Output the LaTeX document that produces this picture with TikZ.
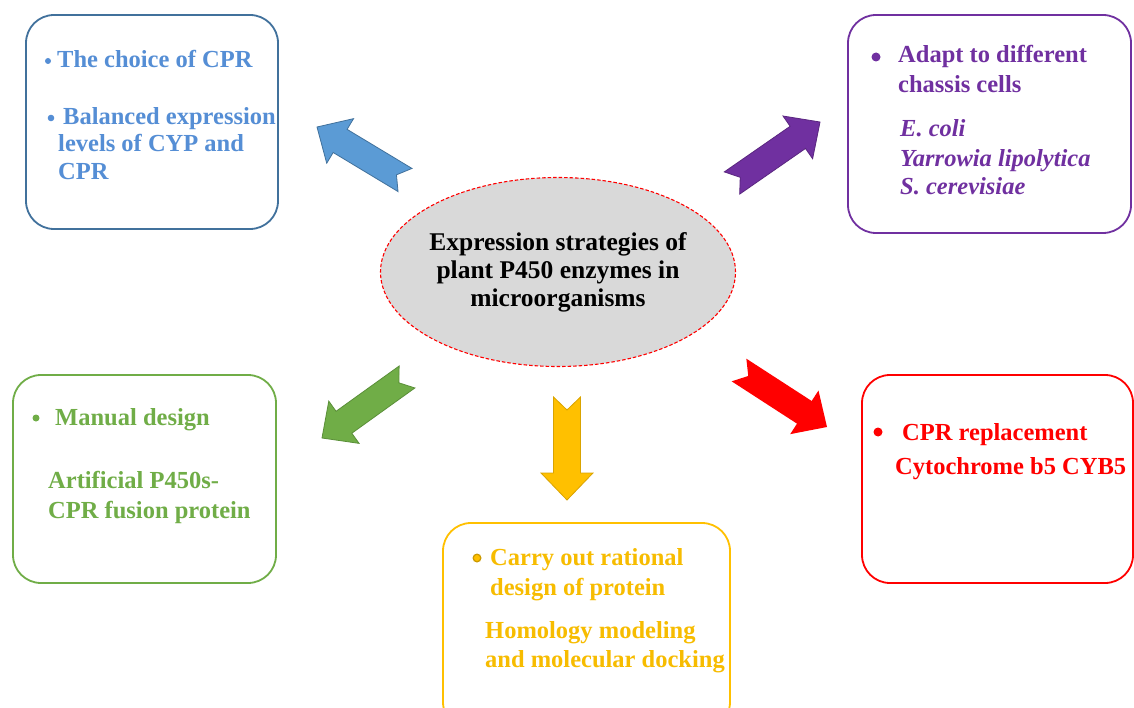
\documentclass[tikz,border=0pt]{standalone}
\usepackage{fontspec}
\setmainfont{Liberation Serif}
\usetikzlibrary{calc,shapes.geometric}
\definecolor{cblue}{HTML}{558ED5}
\definecolor{cblueb}{HTML}{41719C}
\definecolor{cbluea}{HTML}{5B9BD5}
\definecolor{cpurple}{HTML}{7030A0}
\definecolor{cgreen}{HTML}{70AD47}
\definecolor{cgreenb}{HTML}{5A8F38}
\definecolor{cred}{HTML}{FF0000}
\definecolor{cyellow}{HTML}{FFC000}
\definecolor{cyellowt}{HTML}{F7BC00}
\definecolor{cgray}{HTML}{D9D9D9}
\newcommand\blockarrow[4]{% style, tail, tip, notch
  \coordinate (#2h) at ($(#3)!27pt!(#2)$);
  \path[#1] ($(#2)!13.5pt!90:(#3)$) -- ($(#2)!#4!(#3)$) -- ($(#2)!13.5pt!-90:(#3)$)
    -- ($(#2h)!13.5pt!-90:(#3)$) -- ($(#2h)!26pt!-90:(#3)$) -- (#3)
    -- ($(#2h)!26pt!90:(#3)$) -- ($(#2h)!13.5pt!90:(#3)$) -- cycle;
}
\begin{document}
\begin{tikzpicture}[x=1pt,y=-1pt,
  box/.style={line width=1.8pt,rounded corners=28pt},
  txt/.style={inner sep=0pt,anchor=base west,font=\fontsize{24.5}{28}\selectfont\bfseries},
  itxt/.style={txt,font=\fontsize{24.5}{28}\selectfont\bfseries\itshape}]
\useasboundingbox (0,0) rectangle (1134,708);
\fill[white] (0,0) rectangle (1134,708);
% boxes
\draw[box,cblueb] (26,15) rectangle (278,229);
\draw[box,cpurple] (848,15) rectangle (1131,233);
\draw[box,cgreen] (13,375) rectangle (276,583);
\draw[box,cred] (862,375) rectangle (1133,583);
\draw[box,cyellow] (443,523) rectangle (730,730);
% center ellipse
\node[ellipse,fill=cgray,draw=cred,dash pattern=on 3.5pt off 2pt,line width=1.1pt,
  minimum width=355pt,minimum height=189pt,inner sep=0pt] (center) at (558,272) {};
\node[inner sep=0pt,align=center,font=\fontsize{25.5}{28}\selectfont\bfseries]
  (centertext) at (center)
  {Expression strategies of\\plant P450 enzymes in\\microorganisms};
% arrows
\coordinate (bt) at (405,180); \coordinate (bp) at (317,127);
\coordinate (pt) at (732,183); \coordinate (pp) at (820,122);
\coordinate (gt) at (407,377); \coordinate (gp) at (322,438);
\coordinate (rt) at (739,370); \coordinate (rp) at (827,427);
\coordinate (yt) at (567,397); \coordinate (yp) at (567,500);
\blockarrow{fill=cbluea,draw=cblueb,line width=0.8pt}{bt}{bp}{10pt}
\blockarrow{fill=cpurple,draw=cpurple!80!black,line width=0.8pt}{pt}{pp}{10pt}
\blockarrow{fill=cgreen,draw=cgreenb,line width=0.8pt}{gt}{gp}{10pt}
\blockarrow{fill=cred}{rt}{rp}{11pt}
\blockarrow{fill=cyellow,draw=cyellow!85!black,line width=0.8pt}{yt}{yp}{13pt}
% bullets
\fill[cblue] (48,61) circle (3pt);
\fill[cblue] (51,118) circle (3.3pt);
\fill[cpurple] (876,57) circle (4.5pt);
\fill[cgreen] (36,418) circle (3.5pt);
\fill[cred] (878,432) circle (4.5pt);
\fill[cyellow!80!black] (477,558) circle (4.5pt);
\fill[cyellow] (477,558) circle (3pt);
% texts
\node[txt,cblue] (b1) at (57,68) {The choice of CPR};
\node[txt,cblue] (b2) at (63,125) {Balanced expression};
\node[txt,cblue] (b3) at (58,152) {levels of CYP and};
\node[txt,cblue] (b4) at (58,180) {CPR};
\node[txt,cpurple] (p1) at (898,63) {Adapt to different};
\node[txt,cpurple] (p2) at (898,93) {chassis cells};
\node[itxt,cpurple] (p3) at (900,137) {E. coli};
\node[itxt,cpurple] (p4) at (900,167) {Yarrowia lipolytica};
\node[itxt,cpurple] (p5) at (900,195) {S. cerevisiae};
\node[txt,cgreen] (g1) at (55,425) {Manual design};
\node[txt,cgreen] (g2) at (48,488) {Artificial P450s-};
\node[txt,cgreen] (g3) at (48,518) {CPR fusion protein};
\node[txt,cred] (r1) at (902,440) {CPR replacement};
\node[txt,cred] (r2) at (895,474) {Cytochrome b5 CYB5};
\node[txt,cyellowt] (y1) at (490,565) {Carry out rational};
\node[txt,cyellowt] (y2) at (490,595) {design of protein};
\node[txt,cyellowt] (y3) at (485,638) {Homology modeling};
\node[txt,cyellowt] (y4) at (485,667) {and molecular docking};
\end{tikzpicture}
\end{document}
